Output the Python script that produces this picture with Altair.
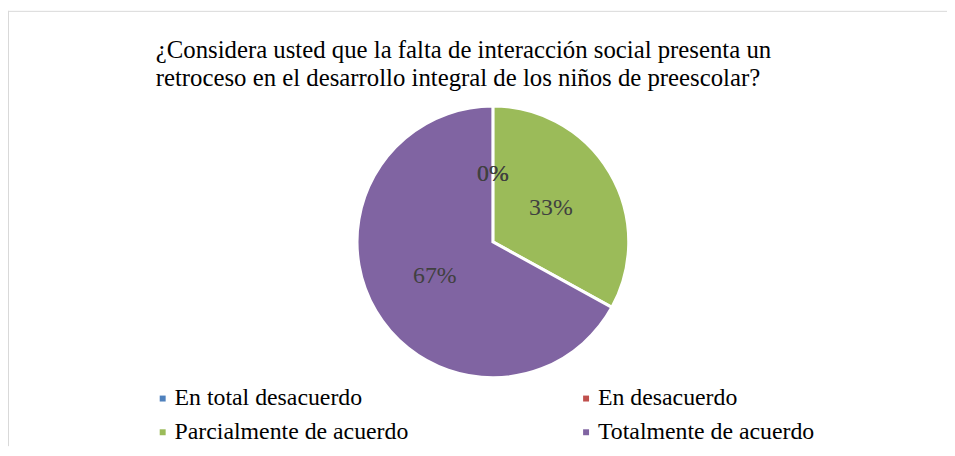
import altair as alt
import pandas as pd

# ---- data ----
categories = ["En total desacuerdo", "En desacuerdo", "Parcialmente de acuerdo", "Totalmente de acuerdo"]
percentages = [0, 0, 33, 67]
colors = ["#4F81BD", "#C0504D", "#9BBB59", "#8064A2"]
title_lines = [
    "¿Considera usted que la falta de interacción social presenta un",
    "retroceso en el desarrollo integral de los niños de preescolar?",
]

df = pd.DataFrame({
    "categoria": categories,
    "valor": percentages,
    "orden": list(range(len(categories))),
})
df["etiqueta"] = df["valor"].astype(str) + "%"

W, H = 947, 440
CX, CY = 489, 234
R = 137
FONT = "'Liberation Serif', 'Times New Roman', Times, serif"

base = alt.Chart(df).encode(
    theta=alt.Theta("valor:Q", stack=True),
    order=alt.Order("orden:Q"),
)

pie = base.mark_arc(outerRadius=R, stroke="white", strokeWidth=3).encode(
    x=alt.value(CX),
    y=alt.value(CY),
    color=alt.Color(
        "categoria:N",
        scale=alt.Scale(domain=categories, range=colors),
        legend=alt.Legend(
            orient="none",
            direction="horizontal",
            legendX=144,
            legendY=380,
            columns=2,
            title=None,
            symbolType="square",
            symbolSize=36,
            symbolStrokeWidth=0,
            labelFont=FONT,
            labelFontSize=24,
            labelColor="#000000",
            labelOffset=0,
            labelLimit=0,
            columnPadding=167,
            rowPadding=10,
            padding=0,
        ),
    ),
)

labels = base.mark_text(
    radius=68, font=FONT, fontSize=24, color="#404040"
).encode(
    x=alt.value(CX),
    y=alt.value(CY),
    text="etiqueta:N",
)

edge = pd.DataFrame({"f": [0]})
top_rule = alt.Chart(edge).mark_rule(stroke="#d9d9d9", strokeWidth=1).encode(
    x=alt.value(0), x2=alt.value(W), y=alt.value(1.5)
)
left_rule = alt.Chart(edge).mark_rule(stroke="#d9d9d9", strokeWidth=1).encode(
    x=alt.value(0.5), y=alt.value(1), y2=alt.value(H)
)

chart = alt.layer(top_rule, left_rule, pie, labels).properties(
    width=W,
    height=H,
    autosize=alt.AutoSizeParams(type="none"),
    padding=0,
    title=alt.TitleParams(
        text=title_lines,
        anchor="start",
        frame="group",
        font=FONT,
        fontSize=25,
        fontWeight="normal",
        color="#000000",
        lineHeight=28,
        dx=149,
        dy=86,
    ),
).configure_view(strokeWidth=0, stroke="transparent")

chart.save("out.html", embed_options={"renderer": "svg", "actions": False})
